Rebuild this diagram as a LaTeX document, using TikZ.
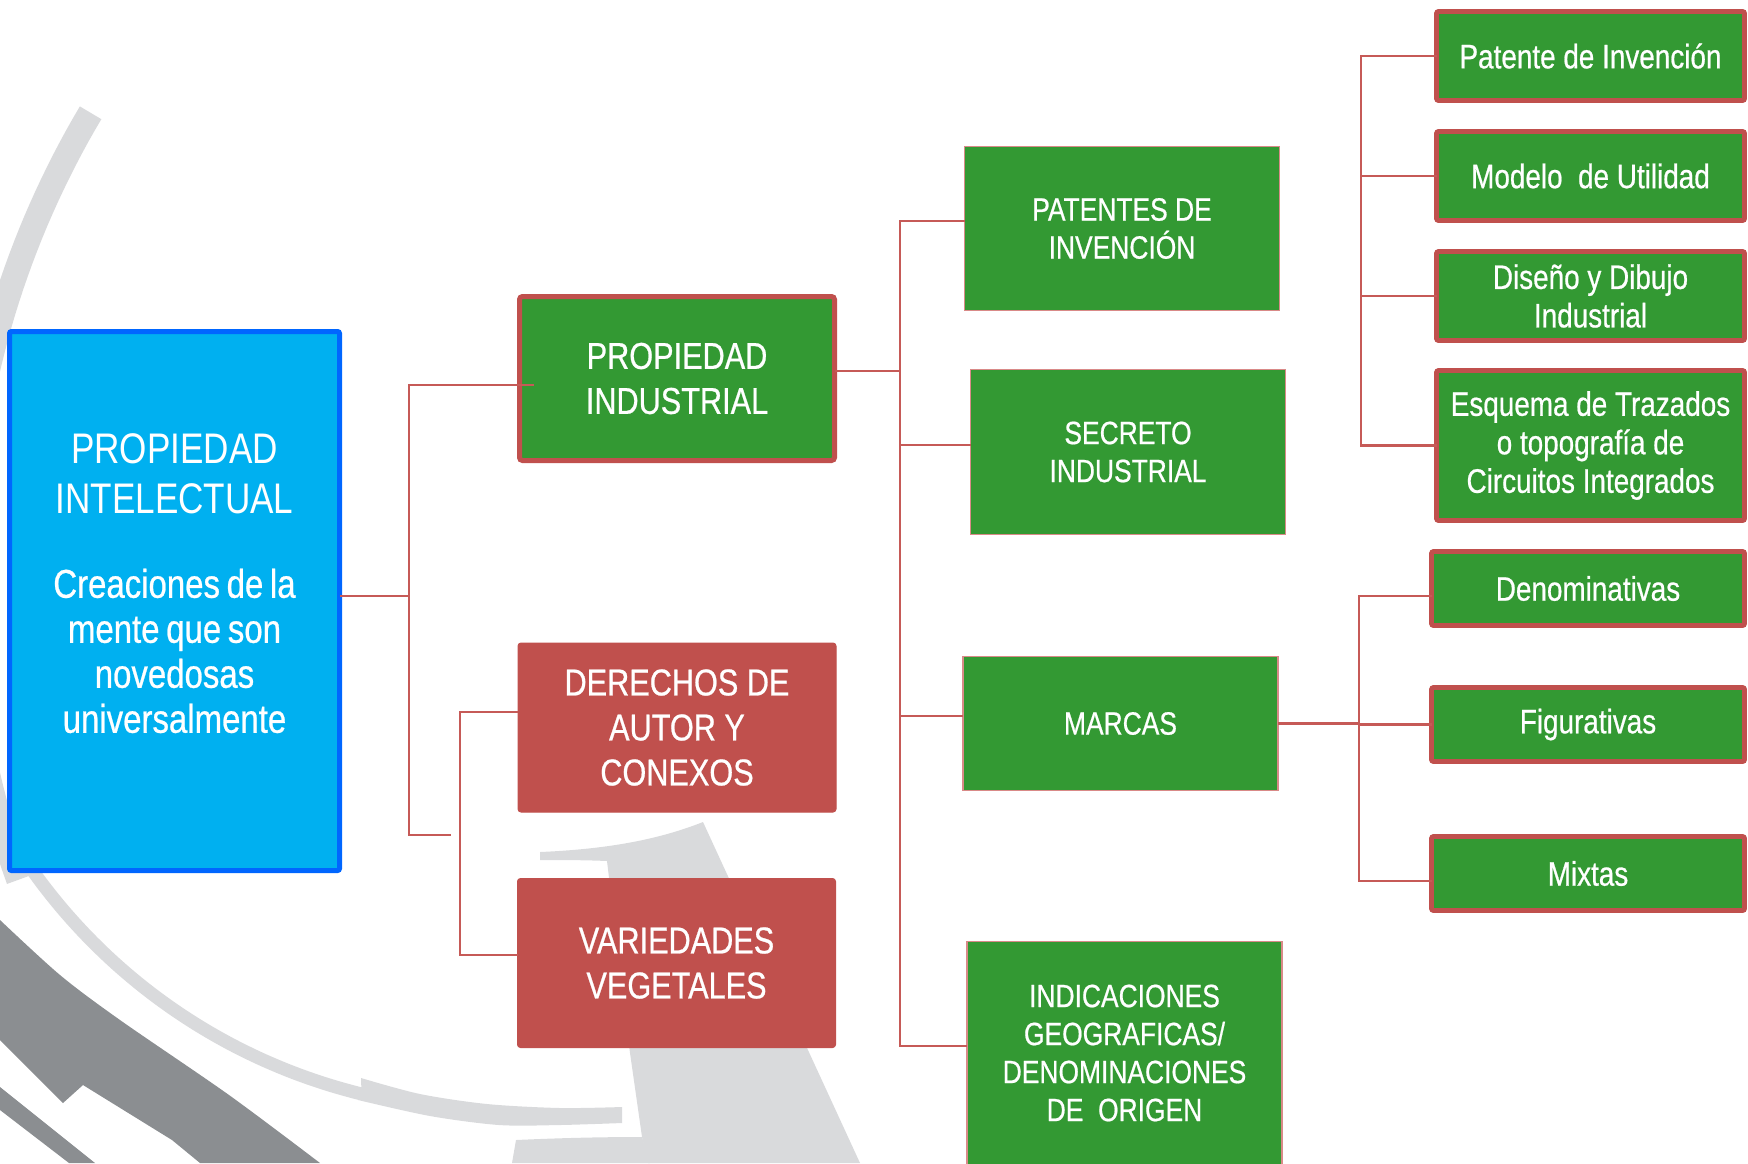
\documentclass[tikz,border=0pt]{standalone}
\usepackage{fontspec}
\setmainfont[FakeStretch=0.82, FakeBold=0.6]{Liberation Sans}
\newfontfamily\thinfont[FakeStretch=0.82]{Liberation Sans}
\usetikzlibrary{calc}
\definecolor{boxgreen}{HTML}{339933}
\definecolor{boxred}{HTML}{C0504D}
\definecolor{boxblue}{HTML}{00B0F0}
\definecolor{blueedge}{HTML}{0066FF}
\definecolor{lightg}{HTML}{D9DADC}
\definecolor{darkg}{HTML}{8B8E91}
\definecolor{connred}{HTML}{C65A57}
\definecolor{thinedge}{HTML}{D98A88}
\begin{document}
\begin{tikzpicture}[x=0.5pt,y=-0.5pt,
  every node/.style={inner sep=0pt, outer sep=0pt, align=center, text=white},
  bluebox/.style={draw=blueedge, fill=boxblue, line width=2.5pt, rounded corners=1pt,
    minimum width=165pt, minimum height=269.5pt},
  bluetext/.style={text width=160pt, align=center},
  lvA/.style={font=\fontsize{18.7}{22.5}\selectfont, rounded corners=1.5pt},
  greenA/.style={lvA, fill=boxgreen, draw=boxred, line width=2.5pt,
    minimum width=157.5pt, minimum height=82pt},
  redA/.style={lvA, fill=boxred, draw=boxred, line width=0.5pt,
    minimum width=159pt, minimum height=84.5pt},
  lvB/.style={fill=boxgreen, draw=thinedge, line width=0.6pt,
    font=\fontsize{16.1}{19}\selectfont, minimum width=157.5pt},
  lvC/.style={fill=boxgreen, draw=boxred, line width=2.4pt, rounded corners=1pt,
    font=\fontsize{17}{19.25}\selectfont},
  conn/.style={draw=connred, line width=1.1pt},
]
\useasboundingbox (0,0) rectangle (1748,1163);

% ---------------- background decoration ----------------
\begin{scope}
\clip (0,0) rectangle (1748,1163);
% large light arc at top-left
\fill[lightg] plot[domain=160:210.7, samples=60] ({864+912*cos(\x)},{572+912*sin(\x)})
  -- plot[domain=210.7:160, samples=60] ({864+887*cos(\x)},{572+887*sin(\x)}) -- cycle;
% thin light arc turning into a thicker band
\fill[lightg] plot[domain=150:104, samples=60] ({498+565*cos(\x)},{539+565*sin(\x)})
  -- (361,1078)
  -- plot[smooth] coordinates {(361,1078) (420,1094) (487,1104) (560,1108) (622,1107)}
  -- (622,1123)
  -- plot[smooth] coordinates {(622,1123) (560,1125) (499,1125) (430,1116) (358,1100)}
  -- plot[domain=104:150, samples=60] ({498+578*cos(\x)},{539+578*sin(\x)}) -- cycle;
% lower light band
\fill[lightg] (516,1140) .. controls (560,1138) and (600,1137) .. (642,1137)
  -- (650,1163) -- (512,1163) -- cycle;
% light wedge with its thin arc on top
\fill[lightg] (540,852) .. controls (610,849) and (660,839) .. (703,822)
  -- (860,1163) -- (648,1163) -- (642,1137) -- (630,1053) -- (607,861)
  .. controls (585,860) and (560,860) .. (540,860) -- cycle;
% dark bands at bottom-left
\fill[darkg] plot[smooth] coordinates {(0,920) (60,975) (120,1020) (229,1095) (320,1163)}
  -- (200,1163) -- (172,1140) -- (83,1085) -- (63,1103) -- (0,1040) -- cycle;
\fill[darkg] (0,1087) -- (95,1163) -- (69,1163) -- (0,1110) -- cycle;
\end{scope}

% ---------------- nodes ----------------
\node[bluebox] (PIN) at (174.5,601) {};
\node[bluetext] (PINtext) at ([yshift=8.75pt]PIN.center)
  {{\thinfont\fontsize{21.4}{25}\selectfont PROPIEDAD\\INTELECTUAL\par}\vspace{19.5pt}%
   {\fontsize{20.1}{22.5}\selectfont Creaciones de la\\mente que son\\novedosas\\universalmente\par}};

\node[greenA] (PI) at (677,378.5) {PROPIEDAD\\INDUSTRIAL};
\node[redA] (DA) at (677,727.5) {DERECHOS DE\\AUTOR Y\\CONEXOS};
\node[redA] (VV) at (676.5,963) {VARIEDADES\\VEGETALES};

\node[lvB, minimum height=82pt] (PAT) at (1122,228.5) {PATENTES DE\\INVENCIÓN};
\node[lvB, minimum height=82.5pt] (SEC) at (1128,452) {SECRETO\\INDUSTRIAL};
\node[lvB, minimum height=67pt] (MAR) at (1120.5,723.5) {MARCAS};
\node[lvB, minimum height=111.5pt] (IND) at (1124.5,1053)
  {INDICACIONES\\GEOGRAFICAS/\\DENOMINACIONES\\DE\ \ ORIGEN};

\node[lvC, minimum width=154pt, minimum height=44.5pt] (PA1) at (1590.5,56) {Patente de Invención};
\node[lvC, minimum width=154pt, minimum height=44.5pt] (PA2) at (1590.5,176) {Modelo\ \ de Utilidad};
\node[lvC, minimum width=154pt, minimum height=44.5pt] (PA3) at (1590.5,296) {Diseño y Dibujo\\Industrial};
\node[lvC, minimum width=154pt, minimum height=75pt] (PA4) at (1590.5,445.5)
  {Esquema de Trazados\\o topografía de\\Circuitos Integrados};

\node[lvC, minimum width=156.5pt, minimum height=37pt] (M1) at (1588,588.5) {Denominativas};
\node[lvC, minimum width=156.5pt, minimum height=37pt] (M2) at (1588,724.5) {Figurativas};
\node[lvC, minimum width=156.5pt, minimum height=37pt] (M3) at (1588,873.5) {Mixtas};

% ---------------- connectors ----------------
\coordinate (j1) at (409,0);
\coordinate (j2) at (460,0);
\coordinate (j3) at (900,0);
\coordinate (j4) at (1361,0);
\coordinate (j5) at (1359,0);
\coordinate (jb) at (451,835);

\coordinate (pinOut) at ([yshift=2.5pt]PIN.east);
\coordinate (piIn) at ([xshift=7.25pt,yshift=-3.25pt]PI.west);
\coordinate (daIn) at ([yshift=7.75pt]DA.west);
\coordinate (vvIn) at ([yshift=4pt]VV.west);
\coordinate (piOut) at ([yshift=3.75pt]PI.east);
\coordinate (patIn) at ([yshift=3.75pt]PAT.west);
\coordinate (secIn) at ([yshift=3.5pt]SEC.west);
\coordinate (marIn) at ([yshift=3.75pt]MAR.west);
\coordinate (indIn) at ([yshift=3.5pt]IND.west);
\coordinate (m1In) at ([yshift=-3.75pt]M1.west);
\coordinate (m3In) at ([yshift=-3.75pt]M3.west);

\draw[conn] (pinOut) -- (pinOut -| j1);
\draw[conn] (piIn) -- (piIn -| j1) -- (j1 |- jb) -- (jb);
\draw[conn] (daIn) -- (daIn -| j2) -- (vvIn -| j2) -- (vvIn);

\draw[conn] (piOut) -- (piOut -| j3);
\draw[conn] (patIn) -- (patIn -| j3) -- (indIn -| j3) -- (indIn);
\draw[conn] (secIn -| j3) -- (secIn);
\draw[conn] (marIn -| j3) -- (marIn);

\draw[conn] (PA1.west) -- (PA1.west -| j4) -- (PA4.west -| j4) -- (PA4.west);
\draw[conn] (PA2.west -| j4) -- (PA2.west);
\draw[conn] (PA3.west -| j4) -- (PA3.west);

\draw[conn] (MAR.east) -- (MAR.east -| j5);
\draw[conn] (m1In) -- (m1In -| j5) -- (m3In -| j5) -- (m3In);
\draw[conn] (M2.west -| j5) -- (M2.west);
\end{tikzpicture}
\end{document}
